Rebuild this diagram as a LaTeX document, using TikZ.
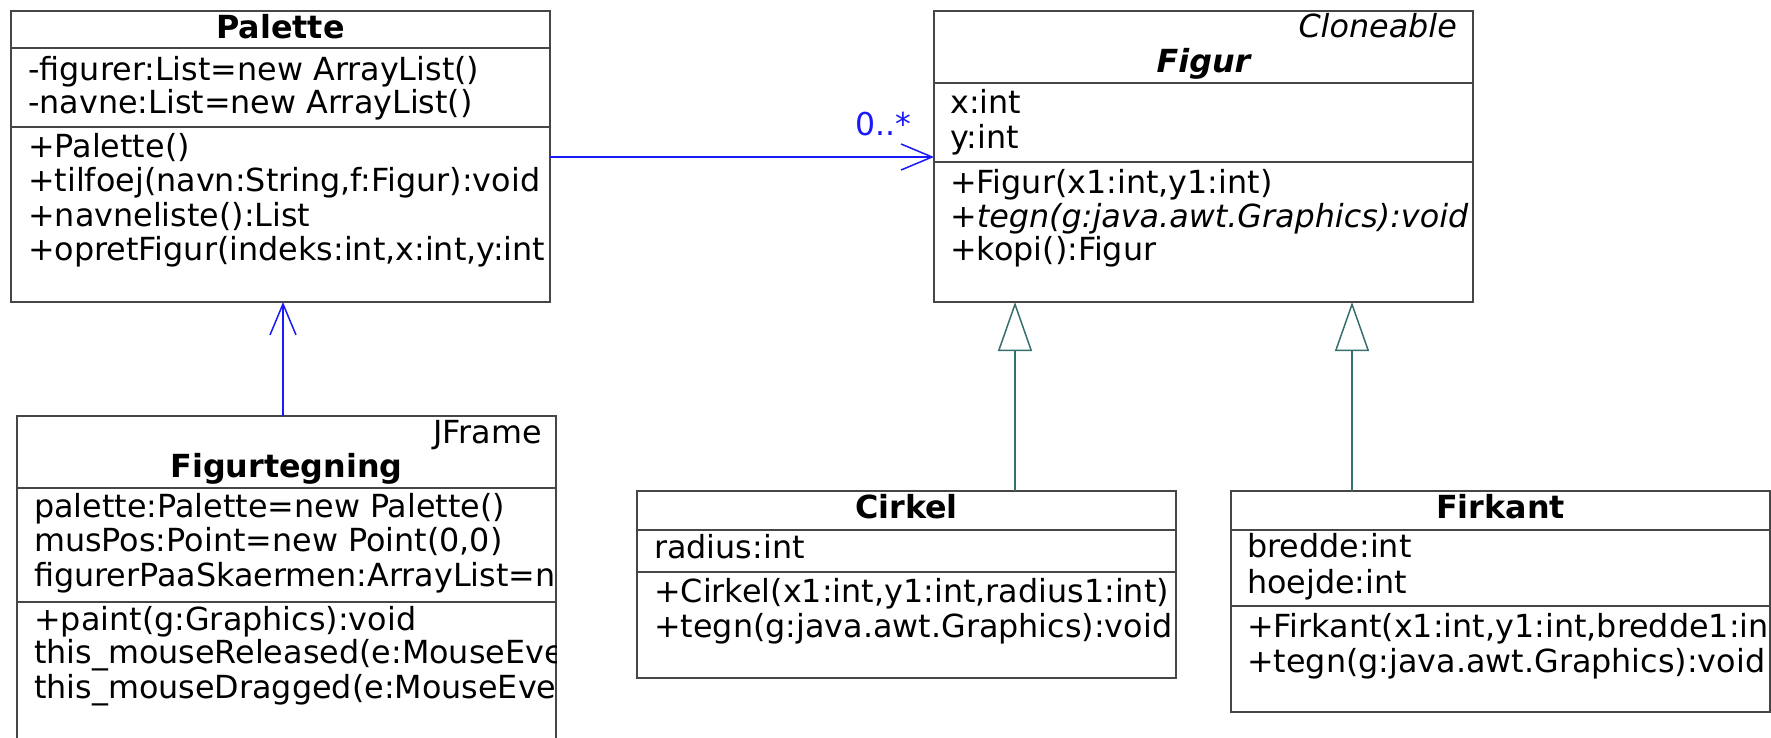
\documentclass[tikz,border=0pt]{standalone}
\usepackage{fontspec}
\setmainfont{DejaVu Sans}
\usetikzlibrary{arrows.meta}

\definecolor{boxline}{RGB}{70,70,70}
\definecolor{assocblue}{RGB}{25,25,250}
\definecolor{genteal}{RGB}{55,110,110}
\newcommand\umlfont{\fontsize{31.8}{34}\selectfont}
\newcommand\multfont{\fontsize{31.5}{34}\selectfont}

\tikzset{
  classbox/.style={draw=boxline, line width=1.4pt, fill=white, inner sep=0pt,
    outer sep=0pt, anchor=north west, minimum width=539pt},
  sepline/.style={draw=boxline, line width=1.4pt},
  member/.style={anchor=base west, inner sep=0pt, font=\umlfont},
  abstractmember/.style={member, font=\umlfont\itshape},
  classname/.style={anchor=base, inner sep=0pt, font=\umlfont\bfseries},
  abstractname/.style={anchor=base, inner sep=0pt, font=\umlfont\bfseries\itshape},
  parentname/.style={anchor=base east, inner sep=0pt, font=\umlfont},
  assoc/.style={draw=assocblue, line width=1.5pt,
    -{Straight Barb[length=31pt, width=26pt, line width=1.5pt]}},
  generalization/.style={draw=genteal, line width=1.5pt,
    -{Triangle[open, length=49pt, width=34pt, line width=1.5pt]}},
  multiplicity/.style={anchor=base west, inner sep=0pt, font=\multfont, text=assocblue}
}

\begin{document}
\begin{tikzpicture}[x=1pt, y=-1pt]
\useasboundingbox (0,0) rectangle (1771,737);
\clip (0,0) rectangle (1771,737);

% ---------- Palette ----------
\node[classbox, minimum height=291pt] (pal) at (11,11) {};
\draw[sepline] (11,48) -- (550,48);
\draw[sepline] (11,127) -- (550,127);
\begin{scope}
  \clip (pal.south west) rectangle (pal.north east);
  \node[classname] (pal-name) at (280.5,38) {Palette};
  \node[member] (pal-a1) at (28,80) {-figurer:List=new ArrayList()};
  \node[member] (pal-a2) at (28,113) {-navne:List=new ArrayList()};
  \node[member] (pal-m1) at (28,157) {+Palette()};
  \node[member] (pal-m2) at (28,191) {+tilfoej(navn:String,f:Figur):void};
  \node[member] (pal-m3) at (28,226) {+navneliste():List};
  \node[member] (pal-m4) at (28,260) {+opretFigur(indeks:int,x:int,y:int};
\end{scope}

% ---------- Figur ----------
\node[classbox, minimum height=291pt] (fig) at (934,11) {};
\draw[sepline] (934,83) -- (1473,83);
\draw[sepline] (934,162) -- (1473,162);
\begin{scope}
  \clip (fig.south west) rectangle (fig.north east);
  \node[parentname, font=\umlfont\itshape] (fig-parent) at (1457,37) {Cloneable};
  \node[abstractname] (fig-name) at (1203.5,72) {Figur};
  \node[member] (fig-a1) at (950,113) {x:int};
  \node[member] (fig-a2) at (950,148) {y:int};
  \node[member] (fig-m1) at (950,193) {+Figur(x1:int,y1:int)};
  \node[abstractmember] (fig-m2) at (950,227) {+tegn(g:java.awt.Graphics):void};
  \node[member] (fig-m3) at (950,260) {+kopi():Figur};
\end{scope}

% ---------- Figurtegning ----------
\node[classbox, minimum height=345pt] (ftg) at (17,416) {};
\draw[sepline] (17,488) -- (556,488);
\draw[sepline] (17,602) -- (556,602);
\begin{scope}
  \clip (ftg.south west) rectangle (ftg.north east);
  \node[parentname] (ftg-parent) at (542,443) {JFrame};
  \node[classname] (ftg-name) at (286.5,477) {Figurtegning};
  \node[member] (ftg-a1) at (34,517) {palette:Palette=new Palette()};
  \node[member] (ftg-a2) at (34,551) {musPos:Point=new Point(0,0)};
  \node[member] (ftg-a3) at (34,586) {figurerPaaSkaermen:ArrayList=n};
  \node[member] (ftg-m1) at (34,630) {+paint(g:Graphics):void};
  \node[member] (ftg-m2) at (34,663) {this\_mouseReleased(e:MouseEve};
  \node[member] (ftg-m3) at (34,698) {this\_mouseDragged(e:MouseEve};
\end{scope}

% ---------- Cirkel ----------
\node[classbox, minimum height=187pt] (cir) at (637,491) {};
\draw[sepline] (637,530) -- (1176,530);
\draw[sepline] (637,572) -- (1176,572);
\begin{scope}
  \clip (cir.south west) rectangle (cir.north east);
  \node[classname] (cir-name) at (906.5,518) {Cirkel};
  \node[member] (cir-a1) at (654,558) {radius:int};
  \node[member] (cir-m1) at (654,602) {+Cirkel(x1:int,y1:int,radius1:int)};
  \node[member] (cir-m2) at (654,637) {+tegn(g:java.awt.Graphics):void};
\end{scope}

% ---------- Firkant ----------
\node[classbox, minimum height=221pt] (fir) at (1231,491) {};
\draw[sepline] (1231,530) -- (1770,530);
\draw[sepline] (1231,606) -- (1770,606);
\begin{scope}
  \clip (fir.south west) rectangle (fir.north east);
  \node[classname] (fir-name) at (1500.5,518) {Firkant};
  \node[member] (fir-a1) at (1247,557) {bredde:int};
  \node[member] (fir-a2) at (1247,593) {hoejde:int};
  \node[member] (fir-m1) at (1247,637) {+Firkant(x1:int,y1:int,bredde1:in};
  \node[member] (fir-m2) at (1247,672) {+tegn(g:java.awt.Graphics):void};
\end{scope}

% ---------- relations ----------
\coordinate (assocrow) at (0,157);
\coordinate (palcol) at (283,0);
\coordinate (circol) at (1015,0);
\coordinate (fircol) at (1352,0);

\draw[assoc] (pal.east |- assocrow) -- (fig.west |- assocrow);
\node[multiplicity] (mult) at (855,135) {0..*};
\draw[assoc] (ftg.north -| palcol) -- (pal.south -| palcol);
\draw[generalization] (cir.north -| circol) -- (fig.south -| circol);
\draw[generalization] (fir.north -| fircol) -- (fig.south -| fircol);
\end{tikzpicture}
\end{document}
